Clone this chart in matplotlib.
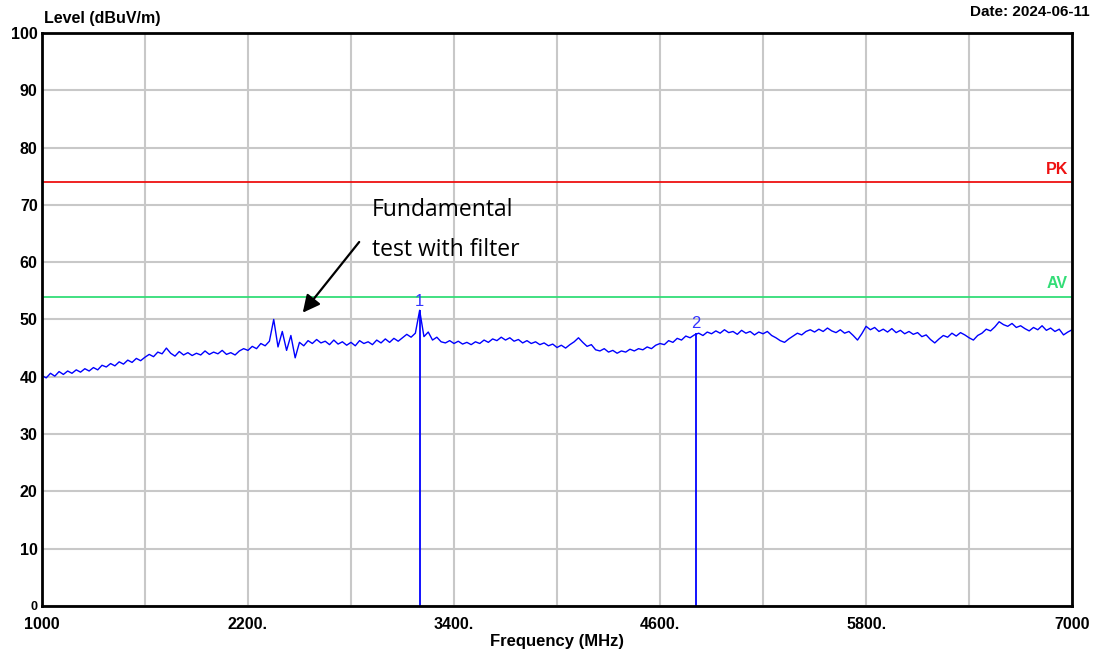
import numpy as np
import matplotlib.pyplot as plt

# frequency sweep, 25 MHz step
freq = np.linspace(1000, 7000, 241)

level = [
    40.2, 39.8, 40.6, 40.1, 40.9, 40.4, 41.0, 40.6, 41.2, 40.8, 41.4, 41.0,
    41.6, 41.2, 42.0, 41.7, 42.3, 41.9, 42.6, 42.2, 42.9, 42.5, 43.2, 42.8,
    43.4, 43.9, 43.5, 44.3, 44.0, 45.0, 44.1, 43.6, 44.4, 43.8, 44.2, 43.7,
    44.1, 43.8, 44.5, 43.9, 44.3, 44.0, 44.6, 43.9, 44.2, 43.8, 44.5, 44.9,
    44.6, 45.3, 44.9, 45.8, 45.4, 46.2, 50.0, 45.2, 47.9, 44.6, 47.2, 43.3,
    46.0, 45.4, 46.3, 45.8, 46.5, 45.9, 46.2, 45.6, 46.4, 45.7, 46.1, 45.5,
    46.0, 45.4, 46.3, 45.8, 46.1, 45.6, 46.4, 45.9, 46.6, 46.0, 46.7, 46.2,
    46.8, 47.4, 46.9, 47.6, 51.6, 47.0, 47.8, 46.4, 46.9, 46.1, 45.9, 46.3,
    45.8, 46.2, 45.7, 46.0, 45.6, 46.1, 45.8, 46.4, 46.0, 46.6, 46.3, 46.9,
    46.4, 46.8, 46.2, 46.5, 45.9, 46.3, 45.8, 46.1, 45.6, 45.9, 45.4, 45.7,
    45.1, 45.5, 45.0, 45.6, 46.1, 46.8, 46.0, 45.3, 45.6, 44.7, 44.5, 44.9,
    44.3, 44.6, 44.1, 44.5, 44.3, 44.8, 44.5, 44.9, 44.7, 45.2, 44.9, 45.5,
    45.8, 45.6, 46.3, 46.0, 46.7, 46.4, 47.1, 46.8, 47.3, 47.6, 47.2, 47.8,
    47.5, 48.0, 47.6, 48.2, 47.7, 47.9, 47.4, 48.1, 47.6, 47.9, 47.3, 47.8,
    47.5, 47.9, 47.2, 46.8, 46.3, 46.0, 46.6, 47.1, 47.6, 47.3, 47.9, 48.2,
    47.8, 48.3, 47.9, 48.5, 48.0, 47.7, 48.2, 47.6, 47.9, 47.2, 46.4, 47.5,
    48.8, 48.2, 48.6, 47.9, 48.3, 47.8, 48.4, 47.7, 48.1, 47.5, 47.9, 47.4,
    47.7, 47.0, 47.3, 46.5, 45.9, 46.6, 47.2, 46.9, 47.6, 47.1, 47.7, 47.3,
    46.8, 46.4, 47.2, 47.6, 48.3, 48.0, 48.7, 49.6, 49.1, 48.8, 49.3, 48.6,
    48.9, 48.4, 48.0, 48.6, 48.2, 48.9, 48.1, 48.5, 47.9, 48.3, 47.3, 47.8,
    48.2,
]

marker_freq = [3200, 4810]
marker_level = [51.6, 47.6]
marker_names = ['1', '2']

pk_limit = 74
av_limit = 54

x_ticks = [1000, 1600, 2200, 2800, 3400, 4000, 4600, 5200, 5800, 6400, 7000]
x_labels = ['1000', '', '2200.', '', '3400.', '', '4600.', '', '5800.', '', '7000']
y_ticks = list(range(0, 101, 10))

sans = ['Liberation Sans', 'DejaVu Sans']

fig = plt.figure(figsize=(11.03, 6.55), dpi=100)
ax = fig.add_axes([0.038, 0.075, 0.934, 0.8746])

ax.set_xlim(1000, 7000)
ax.set_ylim(0, 100)
ax.set_xticks(x_ticks)
ax.set_xticklabels(x_labels, fontsize=11.5, fontweight='bold', family=sans)
ax.set_yticks(y_ticks)
ax.set_yticklabels([str(v) for v in y_ticks], fontsize=11.5, fontweight='bold', family=sans)
ax.get_yticklabels()[0].set_fontsize(9)
ax.tick_params(length=0)
ax.tick_params(axis='x', pad=8)
ax.tick_params(axis='y', pad=3)
ax.grid(True, color='#c8c8c8', linewidth=1.5)
ax.set_axisbelow(True)
for side in ax.spines.values():
    side.set_linewidth(2)
    side.set_color('black')

# limit lines
ax.axhline(pk_limit, color='#ee1111', linewidth=1.3)
ax.axhline(av_limit, color='#33dd77', linewidth=1.3)
ax.text(6975, pk_limit + 0.9, 'PK', color='#ee1111', fontsize=11.5, fontweight='bold',
        family=sans, va='bottom', ha='right')
ax.text(6975, av_limit + 0.9, 'AV', color='#33dd77', fontsize=11.5, fontweight='bold',
        family=sans, va='bottom', ha='right')

# trace
ax.plot(freq, level, color='#0000ff', linewidth=1.0)

# markers
ax.vlines(marker_freq, 0, marker_level, color='#0000ff', linewidth=1.3)
for f, lv, name in zip(marker_freq, marker_level, marker_names):
    ax.text(f, lv + 0.3, name, color='#3333ff', fontsize=12, ha='center', va='bottom',
            family=sans)

# annotation
ax.annotate('', xy=(2509, 50.8), xytext=(2858, 63.9),
            arrowprops=dict(arrowstyle='-|>', color='black', lw=1.6, mutation_scale=26))
ax.text(2922, 69.1, 'Fundamental', fontsize=16.5, va='center', family=['Open Sans', 'DejaVu Sans'])
ax.text(2922, 62.1, 'test with filter', fontsize=16.5, va='center', family=['Open Sans', 'DejaVu Sans'])

fig.text(0.040, 0.972, 'Level (dBuV/m)', fontsize=11.5, fontweight='bold',
         family=sans, va='center')
fig.text(0.988, 0.982, 'Date: 2024-06-11', fontsize=11, fontweight='bold',
         family=sans, va='center', ha='right')
fig.text(0.505, 0.021, 'Frequency (MHz)', fontsize=12, fontweight='bold',
         family=sans, va='center', ha='center')

fig.savefig('out.png', dpi=100)
